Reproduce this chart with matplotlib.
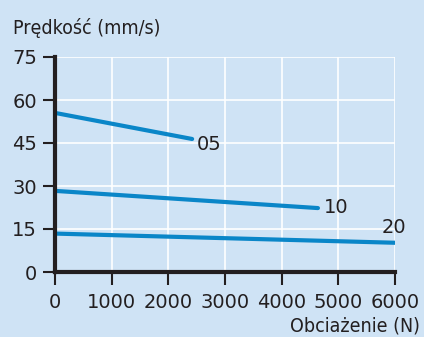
import matplotlib
matplotlib.use("Agg")
import matplotlib.pyplot as plt

series_names = ["05", "10", "20"]
x_05 = [0, 2420]
y_05 = [55.5, 46.4]
x_10 = [0, 4640]
y_10 = [28.3, 22.3]
x_20 = [0, 6000]
y_20 = [13.4, 10.2]
xticks = [0, 1000, 2000, 3000, 4000, 5000, 6000]
yticks = [0, 15, 30, 45, 60, 75]

bg = "#cfe3f5"
line_c = "#0a86c8"
txt = "#231f20"
fs = 14

plt.rcParams['font.family'] = ['DejaVu Sans']
fig = plt.figure(figsize=(4.24, 3.37), dpi=100, facecolor=bg)
ax = fig.add_axes([55/424, 1-272/337, 340/424, 215/337], facecolor=bg)

for xs, ys, name in zip([x_05, x_10, x_20], [y_05, y_10, y_20], series_names):
    ax.plot(xs, ys, color=line_c, lw=3, solid_capstyle='round')

ax.text(x_05[-1] + 90, y_05[-1] - 2.0, "05", fontsize=fs, color=txt, va='center', ha='left')
ax.text(x_10[-1] + 100, y_10[-1] + 0.3, "10", fontsize=fs, color=txt, va='center', ha='left')
ax.text(x_20[-1] - 10, y_20[-1] + 5.2, "20", fontsize=fs, color=txt, va='center', ha='center')

ax.set_xlim(0, 6000)
ax.set_ylim(0, 75)
ax.set_xticks(xticks)
ax.set_yticks(yticks)
ax.set_xticklabels([str(v) for v in xticks], fontsize=fs, color=txt)
ax.set_yticklabels([str(v) for v in yticks], fontsize=fs, color=txt)
ax.grid(True, color='white', lw=1.2)
ax.set_axisbelow(True)
for s in ['top', 'right']:
    ax.spines[s].set_visible(False)
for s in ['left', 'bottom']:
    ax.spines[s].set_color(txt)
    ax.spines[s].set_linewidth(3)
ax.tick_params(axis='both', direction='out', length=9, width=1.5, color=txt, pad=4)
ax.tick_params(axis='x', pad=6)

fig.text(13/424, 1-28/337, "Prędkość (mm/s)", fontsize=fs, fontstretch='condensed',
         color=txt, va='center', ha='left')
fig.text(420/424, 1-326/337, "Obciażenie (N)", fontsize=fs, fontstretch='condensed',
         color=txt, va='center', ha='right')

fig.savefig("out.png", dpi=100, facecolor=bg)
